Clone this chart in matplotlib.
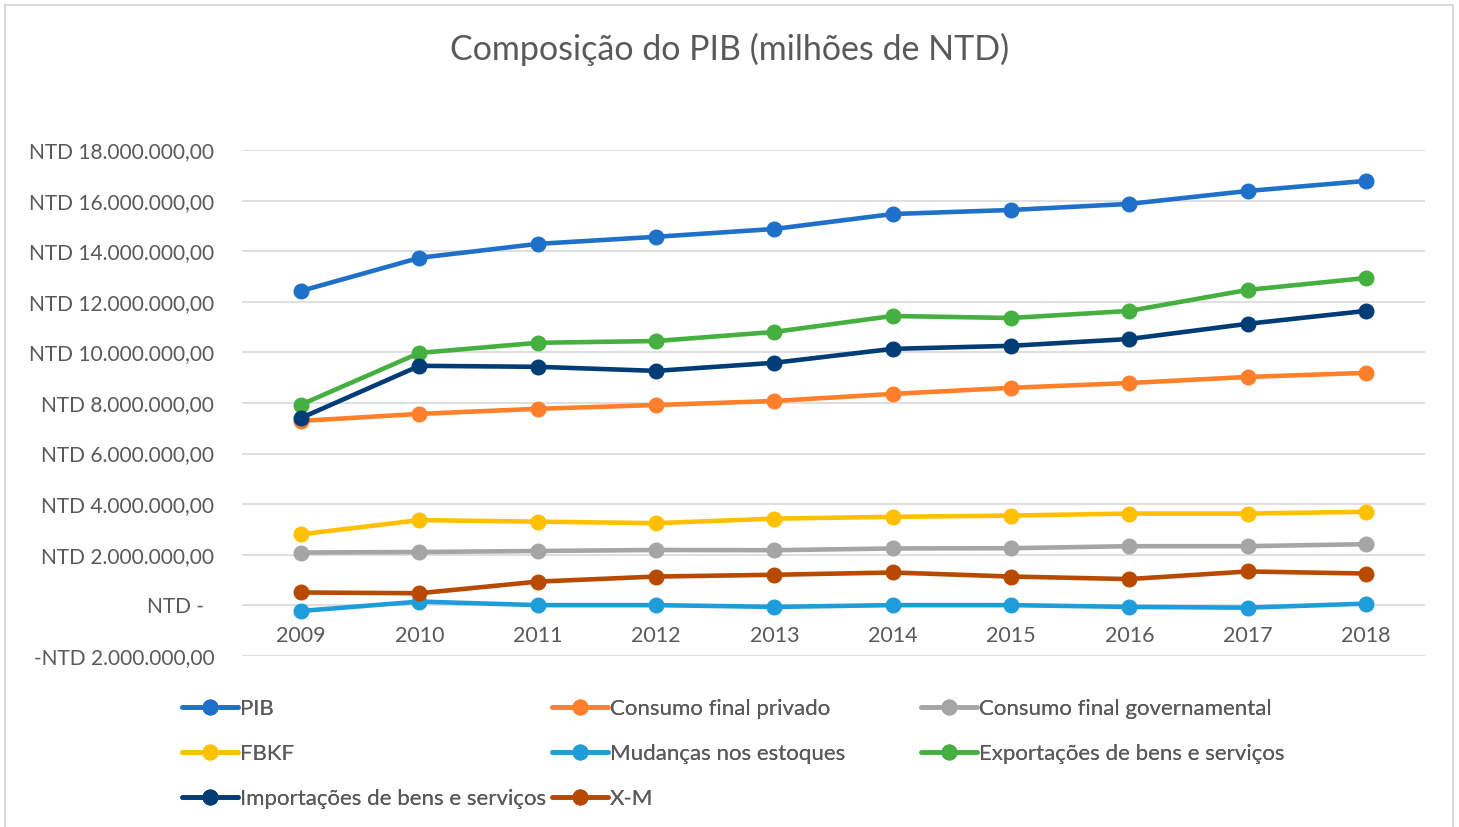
import matplotlib
matplotlib.use('Agg')
import matplotlib.pyplot as plt
from matplotlib.patches import Rectangle

plt.rcParams['font.family'] = ['Lato', 'DejaVu Sans']

# data in millions of NTD
years = ['2009', '2010', '2011', '2012', '2013', '2014', '2015', '2016', '2017', '2018']
pib = [12.43, 13.74, 14.29, 14.57, 14.88, 15.47, 15.63, 15.87, 16.38, 16.78]
consumo_privado = [7.29, 7.57, 7.77, 7.92, 8.08, 8.36, 8.60, 8.79, 9.03, 9.19]
consumo_gov = [2.09, 2.11, 2.15, 2.19, 2.18, 2.25, 2.26, 2.34, 2.34, 2.42]
fbkf = [2.81, 3.37, 3.31, 3.25, 3.43, 3.50, 3.55, 3.63, 3.63, 3.70]
estoques = [-0.22, 0.15, 0.01, 0.01, -0.06, 0.01, 0.01, -0.06, -0.09, 0.07]
exportacoes = [7.94, 9.98, 10.38, 10.45, 10.81, 11.44, 11.36, 11.64, 12.47, 12.94]
importacoes = [7.41, 9.47, 9.43, 9.27, 9.59, 10.14, 10.26, 10.53, 11.13, 11.64]
x_m = [0.51, 0.48, 0.94, 1.14, 1.21, 1.30, 1.14, 1.04, 1.34, 1.26]

series = [
    ('PIB', pib, '#1F70C8'),
    ('Consumo final privado', consumo_privado, '#FF7F2A'),
    ('Consumo final governamental', consumo_gov, '#A5A5A5'),
    ('FBKF', fbkf, '#FFC000'),
    ('Mudanças nos estoques', estoques, '#1F9DDA'),
    ('Exportações de bens e serviços', exportacoes, '#45B03F'),
    ('Importações de bens e serviços', importacoes, '#003C76'),
    ('X-M', x_m, '#B84A00'),
]

yticks = [-2, 0, 2, 4, 6, 8, 10, 12, 14, 16, 18]


def ntd(v):
    if v == 0:
        return 'NTD -  '
    s = '{:,.2f}'.format(abs(v) * 1e6).replace(',', 'X').replace('.', ',').replace('X', '.')
    return ('-NTD ' if v < 0 else 'NTD ') + s


fig = plt.figure(figsize=(14.59, 8.27), dpi=100)
fig.add_artist(Rectangle((0.0035, -0.01), 0.9925, 1.004, transform=fig.transFigure,
                         fill=False, edgecolor='#D9D9D9', linewidth=1.5))
ax = fig.add_axes([0.1659, 0.2068, 0.9767 - 0.1659, 0.8186 - 0.2068])

xs = list(range(len(years)))
handles = {}
for name, vals, col in series:
    ln, = ax.plot(xs, vals, color=col, linewidth=3.3, marker='o', markersize=10.5,
                  solid_capstyle='round', label=name, zorder=3)
    handles[name] = ln

ax.set_xlim(-0.5, len(years) - 0.5)
ax.set_ylim(-2, 18)
ax.set_yticks(yticks)
ax.set_yticklabels([ntd(v) for v in yticks])
ax.grid(axis='y', color='#D9D9D9', linewidth=1.2)
ax.set_axisbelow(True)
ax.set_xticks([])
for s in ax.spines.values():
    s.set_visible(False)
ax.tick_params(axis='y', length=0, pad=20, labelsize=15, labelcolor='#595959')

# category labels sit under the zero line, like Excel
for i, yr in enumerate(years):
    ax.annotate(yr, xy=(i, 0), xytext=(0, -31), textcoords='offset pixels',
                ha='center', va='center', fontsize=15.5, color='#595959')

fig.text(0.5, 0.94, 'Composição do PIB (milhões de NTD)', ha='center', va='center',
         fontsize=24.5, color='#595959')

# legend in three equal-width columns
cols = [
    ['PIB', 'FBKF', 'Importações de bens e serviços'],
    ['Consumo final privado', 'Mudanças nos estoques', 'X-M'],
    ['Consumo final governamental', 'Exportações de bens e serviços'],
]
col_x = [182, 552, 921]
for cx, names in zip(col_x, cols):
    leg = fig.legend([handles[n] for n in names], names, loc='upper left',
                     bbox_to_anchor=(cx / 1459, 1 - 699 / 827), frameon=False,
                     fontsize=16, handlelength=2.5, handletextpad=0.12,
                     labelspacing=1.12, borderaxespad=0, borderpad=0,
                     labelcolor='#595959')
    fig.add_artist(leg)

fig.savefig('out.png', dpi=100)
